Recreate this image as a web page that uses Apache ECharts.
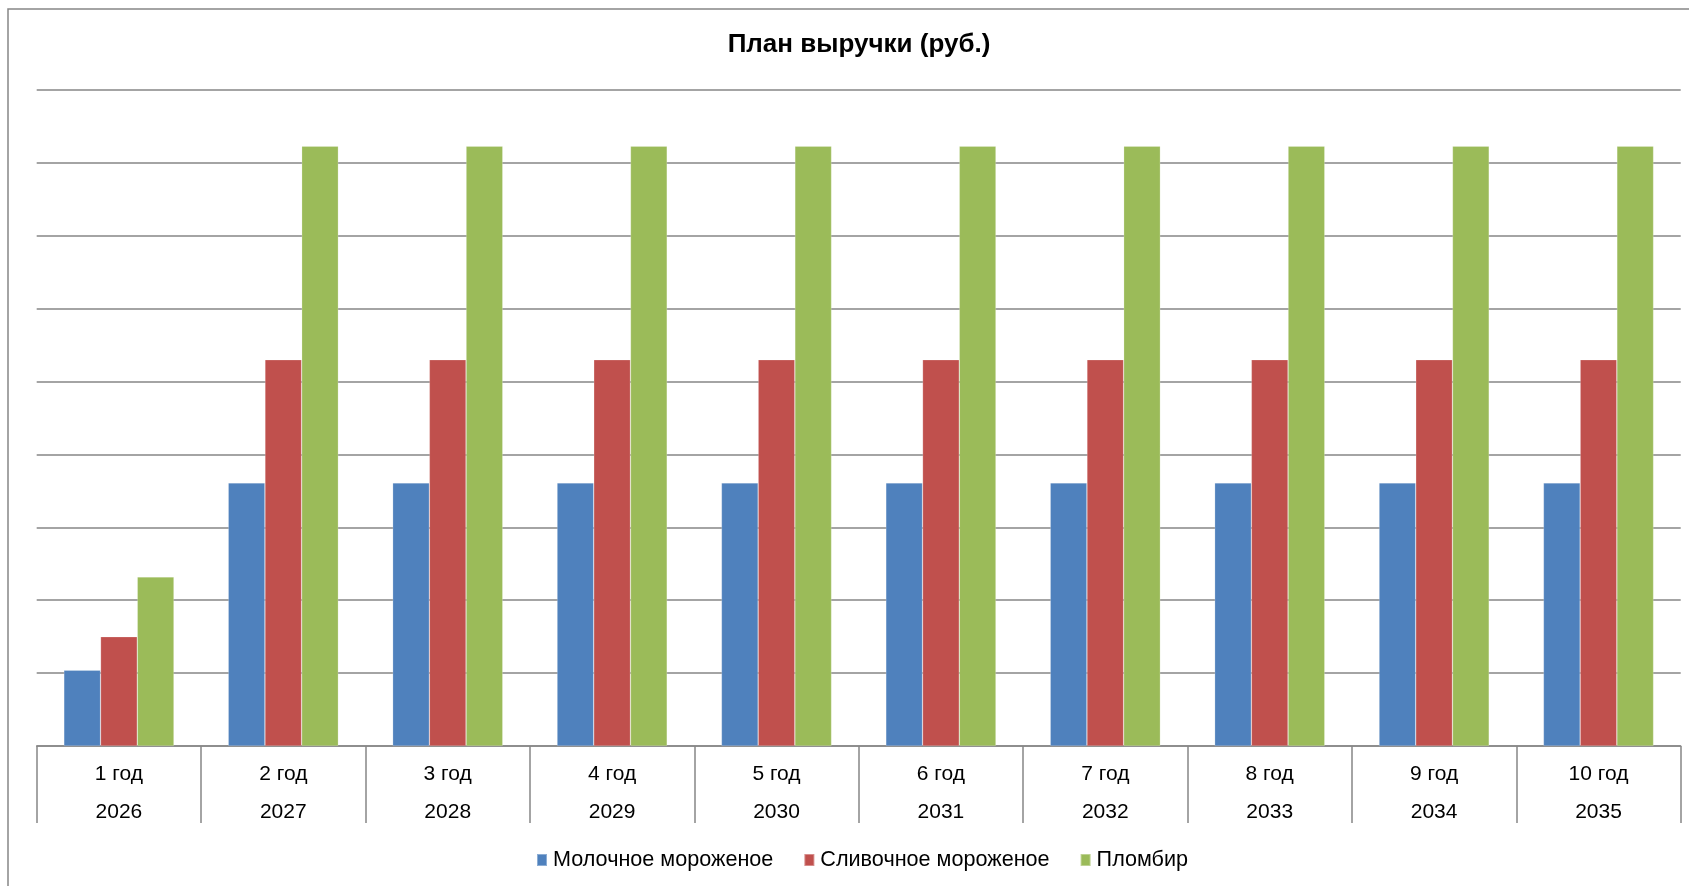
<!DOCTYPE html>
<html>
<head>
<meta charset="utf-8">
<script src="https://cdn.jsdelivr.net/npm/echarts@6/dist/echarts.min.js"></script>
<style>
html,body{margin:0;padding:0;background:#fff;}
#chart{width:1689px;height:886px;}
</style>
</head>
<body>
<div id="chart"></div>
<script>
const periods = ['1 год','2 год','3 год','4 год','5 год','6 год','7 год','8 год','9 год','10 год'];
const years = ['2026','2027','2028','2029','2030','2031','2032','2033','2034','2035'];
const seriesNames = ['Молочное мороженое','Сливочное мороженое','Пломбир'];
const milkIce = [1.04, 3.61, 3.61, 3.61, 3.61, 3.61, 3.61, 3.61, 3.61, 3.61];
const creamIce = [1.50, 5.30, 5.30, 5.30, 5.30, 5.30, 5.30, 5.30, 5.30, 5.30];
const plombir = [2.32, 8.23, 8.23, 8.23, 8.23, 8.23, 8.23, 8.23, 8.23, 8.23];
const colors = ['#4F81BD','#C0504D','#9BBB59'];

const FONT = '"Liberation Sans", Arial, sans-serif';
const chart = echarts.init(document.getElementById('chart'), null, {renderer:'canvas'});
const cats = periods.map((p,i)=>p+'\n'+years[i]);
const values = [milkIce, creamIce, plombir];

chart.setOption({
  backgroundColor:'#fff',
  animation:false,
  color: colors,
  title:{
    text:'План выручки (руб.)',
    left:854, textAlign:'center', top:27,
    textStyle:{fontFamily:FONT, fontSize:26, fontWeight:'bold', color:'#000'}
  },
  graphic:[{
    type:'rect', shape:{x:8, y:9, width:1700, height:900},
    style:{fill:'none', stroke:'#868686', lineWidth:1.5}, silent:true
  }],
  legend:{
    bottom:10, left:531,
    itemWidth:10, itemHeight:12, itemGap:30,
    icon:'rect',
    textStyle:{fontFamily:FONT, fontSize:21.6, color:'#000', padding:[0,0,0,1]},
    data: seriesNames
  },
  grid:{left:36.7, right:8.3, top:90, bottom:140, containLabel:false},
  xAxis:{
    type:'category', data:cats, boundaryGap:true,
    axisLine:{lineStyle:{color:'#868686', width:1.5}},
    axisTick:{show:true, interval:0, length:77, lineStyle:{color:'#868686', width:1.5}},
    axisLabel:{interval:0, margin:9, fontFamily:FONT, fontSize:21, color:'#000', lineHeight:38}
  },
  yAxis:{
    type:'value', min:0, max:9, interval:1,
    axisLine:{show:false}, axisTick:{show:false}, axisLabel:{show:false},
    splitLine:{lineStyle:{color:'#868686', width:1.5}}
  },
  series: seriesNames.map((n,i)=>({
    name:n, type:'bar', data:values[i],
    barGap:'0%', barCategoryGap:'33%',
    itemStyle:{color:colors[i], borderColor:'rgba(255,255,255,0.35)', borderWidth:0.6}
  }))
});
</script>
</body>
</html>
